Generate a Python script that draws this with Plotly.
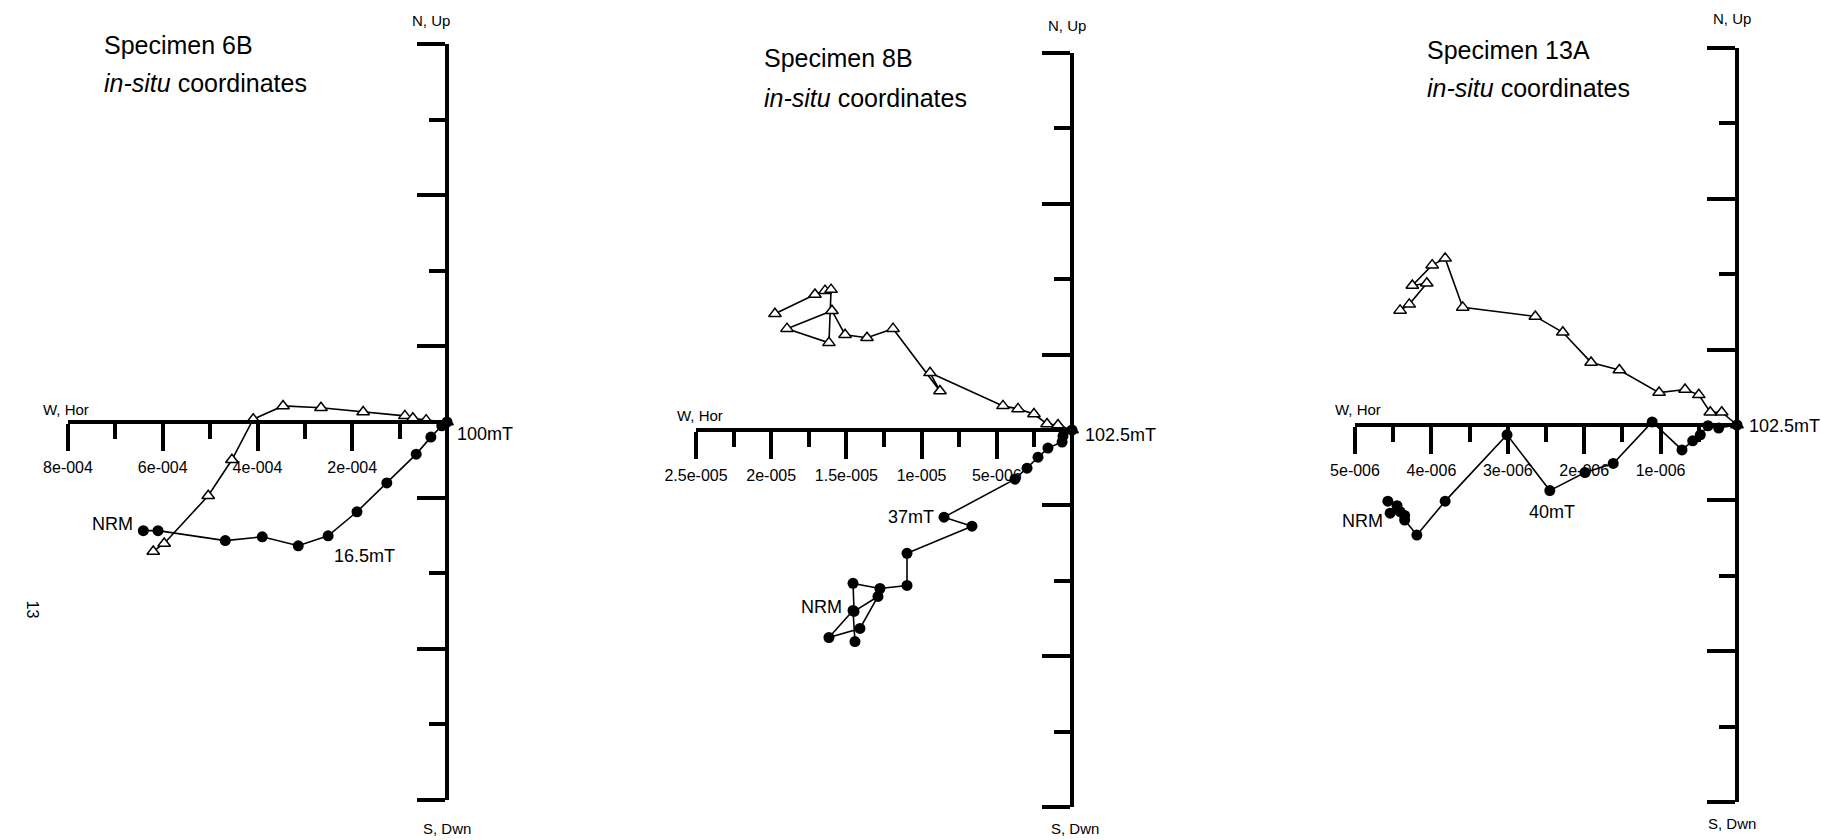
import plotly.graph_objects as go

W, H = 1822, 840

# ---------------- DATA ----------------
# Specimen 6B (units A/m)
p1_circ_h = [6.41e-4, 6.10e-4, 4.68e-4, 3.90e-4, 3.14e-4, 2.51e-4, 1.90e-4, 1.27e-4, 0.65e-4, 0.34e-4, 0.11e-4, 0.0]
p1_circ_v = [-2.30e-4, -2.30e-4, -2.51e-4, -2.43e-4, -2.62e-4, -2.41e-4, -1.90e-4, -1.29e-4, -0.68e-4, -0.32e-4, -0.08e-4, 0.0]
p1_tri_h = [6.20e-4, 5.97e-4, 5.04e-4, 4.54e-4, 4.09e-4, 3.46e-4, 2.66e-4, 1.77e-4, 0.89e-4, 0.72e-4, 0.44e-4, 0.0]
p1_tri_v = [-2.74e-4, -2.57e-4, -1.56e-4, -0.80e-4, 0.06e-4, 0.34e-4, 0.30e-4, 0.21e-4, 0.13e-4, 0.08e-4, 0.04e-4, 0.0]
p1_xtick_vals = [8e-4, 6e-4, 4e-4, 2e-4]
p1_xtick_text = ["8e-004", "6e-004", "4e-004", "2e-004"]
p1_xminor = [7e-4, 5e-4, 3e-4, 1e-4]
p1_ytick_vals = [-8e-4, -4.8e-4, -1.6e-4, 1.6e-4, 4.8e-4, 8e-4]
p1_yminor = [-6.4e-4, -3.2e-4, 3.2e-4, 6.4e-4]

# Specimen 8B
p2_circ_h = [14.43e-6, 14.56e-6, 16.16e-6, 14.10e-6, 12.90e-6, 14.49e-6, 14.56e-6, 12.77e-6, 10.97e-6,
             10.97e-6, 6.65e-6, 8.51e-6, 3.79e-6, 2.99e-6, 2.26e-6, 1.60e-6, 0.66e-6, 0.60e-6, 0.0]
p2_circ_v = [-14.03e-6, -11.97e-6, -13.76e-6, -13.16e-6, -11.04e-6, -12.03e-6, -10.17e-6, -10.51e-6, -10.31e-6,
             -8.18e-6, -6.38e-6, -5.78e-6, -3.26e-6, -2.53e-6, -1.80e-6, -1.20e-6, -0.80e-6, -0.40e-6, 0.0]
p2_tri_h = [19.75e-6, 17.09e-6, 16.42e-6, 16.02e-6, 16.16e-6, 18.95e-6, 15.96e-6, 15.09e-6, 13.63e-6,
            11.90e-6, 8.78e-6, 9.44e-6, 4.59e-6, 3.59e-6, 2.53e-6, 1.66e-6, 0.93e-6, 0.0]
p2_tri_v = [7.71e-6, 8.98e-6, 9.24e-6, 9.31e-6, 5.78e-6, 6.72e-6, 7.91e-6, 6.32e-6, 6.12e-6,
            6.72e-6, 2.59e-6, 3.79e-6, 1.60e-6, 1.40e-6, 1.06e-6, 0.40e-6, 0.33e-6, 0.0]
p2_xtick_vals = [2.5e-5, 2e-5, 1.5e-5, 1e-5, 5e-6]
p2_xtick_text = ["2.5e-005", "2e-005", "1.5e-005", "1e-005", "5e-006"]
p2_xminor = [2.25e-5, 1.75e-5, 1.25e-5, 0.75e-5, 0.25e-5]
p2_ytick_vals = [-25e-6, -15e-6, -5e-6, 5e-6, 15e-6, 25e-6]
p2_yminor = [-20e-6, -10e-6, 10e-6, 20e-6]

# Specimen 13A
p3_circ_h = [4.57e-6, 4.45e-6, 4.54e-6, 4.41e-6, 4.35e-6, 4.35e-6, 4.19e-6, 3.82e-6, 3.01e-6, 2.45e-6,
             1.99e-6, 1.62e-6, 1.11e-6, 0.72e-6, 0.58e-6, 0.48e-6, 0.38e-6, 0.24e-6, 0.0]
p3_circ_v = [-1.01e-6, -1.07e-6, -1.17e-6, -1.15e-6, -1.20e-6, -1.26e-6, -1.46e-6, -1.01e-6, -0.13e-6, -0.87e-6,
             -0.63e-6, -0.51e-6, 0.04e-6, -0.33e-6, -0.21e-6, -0.13e-6, -0.01e-6, -0.04e-6, 0.0]
p3_tri_h = [4.41e-6, 4.29e-6, 4.06e-6, 4.25e-6, 3.99e-6, 3.82e-6, 3.59e-6, 2.64e-6, 2.28e-6, 1.91e-6,
            1.54e-6, 1.02e-6, 0.68e-6, 0.50e-6, 0.35e-6, 0.20e-6, 0.0]
p3_tri_v = [1.52e-6, 1.60e-6, 1.88e-6, 1.85e-6, 2.12e-6, 2.21e-6, 1.56e-6, 1.44e-6, 1.23e-6, 0.83e-6,
            0.73e-6, 0.43e-6, 0.47e-6, 0.40e-6, 0.17e-6, 0.17e-6, 0.0]
p3_xtick_vals = [5e-6, 4e-6, 3e-6, 2e-6, 1e-6]
p3_xtick_text = ["5e-006", "4e-006", "3e-006", "2e-006", "1e-006"]
p3_xminor = [4.5e-6, 3.5e-6, 2.5e-6, 1.5e-6, 0.5e-6]
p3_ytick_vals = [-5e-6, -3e-6, -1e-6, 1e-6, 3e-6, 5e-6]
p3_yminor = [-4e-6, -2e-6, 2e-6, 4e-6]

titles = ["Specimen 6B", "Specimen 8B", "Specimen 13A"]
end_labels = ["100mT", "102.5mT", "102.5mT"]

FONT = "Liberation Sans, Arial, sans-serif"

def pxx(x):
    return x / W

def pxy(y):
    return 1 - y / H

panels = [
    dict(c=(p1_circ_h, p1_circ_v), t=(p1_tri_h, p1_tri_v), xr=8e-4, yr=8e-4,
         xdom=(68, 447), ydom=(44, 800), xt=(p1_xtick_vals, p1_xtick_text), xm=p1_xminor,
         yt=p1_ytick_vals, ym=p1_yminor),
    dict(c=(p2_circ_h, p2_circ_v), t=(p2_tri_h, p2_tri_v), xr=2.5e-5, yr=2.5e-5,
         xdom=(696, 1072), ydom=(53, 807), xt=(p2_xtick_vals, p2_xtick_text), xm=p2_xminor,
         yt=p2_ytick_vals, ym=p2_yminor),
    dict(c=(p3_circ_h, p3_circ_v), t=(p3_tri_h, p3_tri_v), xr=5e-6, yr=5e-6,
         xdom=(1355, 1737), ydom=(48, 802), xt=(p3_xtick_vals, p3_xtick_text), xm=p3_xminor,
         yt=p3_ytick_vals, ym=p3_yminor),
]

fig = go.Figure()
layout = dict(width=W, height=H, autosize=False,
              margin=dict(l=0, r=0, t=0, b=0, pad=0, autoexpand=False),
              paper_bgcolor="white", plot_bgcolor="white", showlegend=False,
              font=dict(family=FONT, color="black"))
annotations = []

for i, p in enumerate(panels):
    k = "" if i == 0 else str(i + 1)
    xa, ya = "x" + k, "y" + k
    fig.add_trace(go.Scatter(x=p["t"][0], y=p["t"][1], xaxis=xa, yaxis=ya, mode="lines+markers",
                             line=dict(color="black", width=1.6), cliponaxis=False,
                             marker=dict(symbol="triangle-up", size=11, color="white",
                                         line=dict(color="black", width=1.5))))
    fig.add_trace(go.Scatter(x=p["c"][0], y=p["c"][1], xaxis=xa, yaxis=ya, mode="lines+markers",
                             line=dict(color="black", width=1.6), cliponaxis=False,
                             marker=dict(symbol="circle", size=11, color="black")))
    x0, x1 = p["xdom"]
    y0, y1 = p["ydom"]
    ymid = (y0 + y1) / 2
    layout["xaxis" + k] = dict(
        domain=[pxx(x0), pxx(x1)], range=[p["xr"], 0], anchor="free", position=pxy(ymid),
        side="bottom", showline=True, linewidth=4, linecolor="black", mirror=False,
        automargin=False,
        showgrid=False, zeroline=False, ticks="outside", ticklen=27, tickwidth=4,
        tickcolor="black", tickmode="array", tickvals=p["xt"][0], ticktext=p["xt"][1],
        ticklabelstandoff=3,
        tickfont=dict(family=FONT, size=16, color="black"),
        minor=dict(tickmode="array", tickvals=p["xm"], ticks="outside", ticklen=15,
                   tickwidth=4, tickcolor="black", showgrid=False),
        fixedrange=True)
    layout["yaxis" + k] = dict(
        domain=[pxy(y1), pxy(y0)], range=[-p["yr"], p["yr"]], anchor="free", position=pxx(x1),
        side="left", showline=True, linewidth=4, linecolor="black",
        automargin=False,
        showgrid=False, zeroline=False, ticks="outside", ticklen=28, tickwidth=4,
        tickcolor="black", tickmode="array", tickvals=p["yt"], showticklabels=False,
        minor=dict(tickmode="array", tickvals=p["ym"], ticks="outside", ticklen=16,
                   tickwidth=4, tickcolor="black", showgrid=False),
        fixedrange=True)
    annotations.append(dict(x=p["c"][0][-1], y=p["c"][1][-1], xref=xa, yref=ya, text=end_labels[i],
                            showarrow=False, xanchor="left", yanchor="middle",
                            xshift=[8, 11, 10][i], yshift=[-12, -5, -1][i],
                            font=dict(size=18)))

title_pos = [(102, 45, 83), (762, 58, 98), (1425, 50, 88)]
for (tx, ty1, ty2), t in zip(title_pos, titles):
    annotations.append(dict(x=pxx(tx), y=pxy(ty1), xref="paper", yref="paper", text=t,
                            showarrow=False, xanchor="left", yanchor="middle", font=dict(size=25)))
    annotations.append(dict(x=pxx(tx), y=pxy(ty2), xref="paper", yref="paper",
                            text="<i>in-situ</i> coordinates",
                            showarrow=False, xanchor="left", yanchor="middle", font=dict(size=25)))

axis_labels = [
    ("N, Up", 431, 20), ("S, Dwn", 447, 828), ("W, Hor", 66, 409),
    ("N, Up", 1067, 25), ("S, Dwn", 1075, 828), ("W, Hor", 700, 415),
    ("N, Up", 1732, 18), ("S, Dwn", 1732, 823), ("W, Hor", 1358, 409),
]
for t, x, y in axis_labels:
    annotations.append(dict(x=pxx(x), y=pxy(y), xref="paper", yref="paper", text=t,
                            showarrow=False, xanchor="center", yanchor="middle", font=dict(size=15)))

annotations += [
    dict(x=p1_circ_h[0], y=p1_circ_v[0], xref="x", yref="y", text="NRM", showarrow=False,
         xanchor="right", yanchor="middle", xshift=-8, yshift=7, font=dict(size=18)),
    dict(x=p1_circ_h[5], y=p1_circ_v[5], xref="x", yref="y", text="16.5mT", showarrow=False,
         xanchor="left", yanchor="middle", xshift=4, yshift=-20, font=dict(size=18)),
    dict(x=p2_circ_h[11], y=p2_circ_v[11], xref="x2", yref="y2", text="37mT", showarrow=False,
         xanchor="right", yanchor="middle", xshift=-8, yshift=0, font=dict(size=18)),
    dict(x=p2_circ_h[1], y=p2_circ_v[1], xref="x2", yref="y2", text="NRM", showarrow=False,
         xanchor="right", yanchor="middle", xshift=-9, yshift=4, font=dict(size=18)),
    dict(x=p3_circ_h[9], y=p3_circ_v[9], xref="x3", yref="y3", text="40mT", showarrow=False,
         xanchor="center", yanchor="middle", xshift=2, yshift=-21, font=dict(size=18)),
    dict(x=p3_circ_h[2], y=p3_circ_v[2], xref="x3", yref="y3", text="NRM", showarrow=False,
         xanchor="right", yanchor="middle", xshift=-5, yshift=-8, font=dict(size=18)),
]

annotations.append(dict(x=pxx(22), y=pxy(620), xref="paper", yref="paper", text="13",
                        showarrow=False, textangle=90, font=dict(size=16)))

layout["annotations"] = annotations
fig.update_layout(**layout)
fig.write_html("out.html", config={"displayModeBar": False},
               post_script="document.body.style.margin='0';document.body.style.padding='0';")
